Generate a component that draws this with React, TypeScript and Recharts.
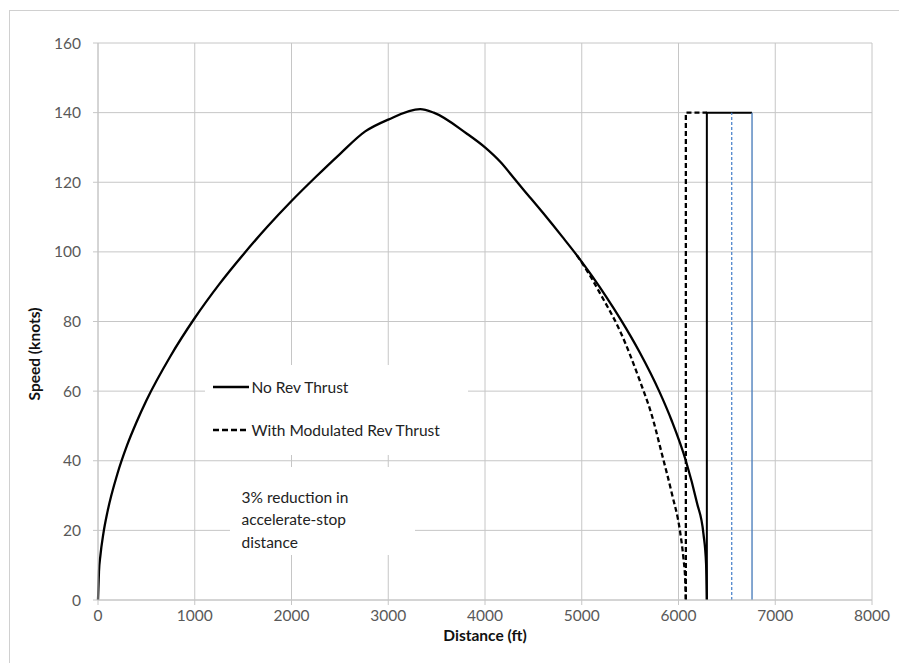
import { CartesianGrid, Label, Line, LineChart, XAxis, YAxis } from 'recharts';

const FONT = 'Lato, "Open Sans", sans-serif';

const distTicks = [0, 1000, 2000, 3000, 4000, 5000, 6000, 7000, 8000];
const speedTicks = [0, 20, 40, 60, 80, 100, 120, 140, 160];

// no reverse thrust: accelerate, reject, brake to stop
const noRevDist = [0, 10, 25, 55, 100, 200, 300, 400, 500, 750, 1000, 1250, 1500, 1750, 2000, 2250, 2500, 2762, 3000, 3330, 3470, 3810, 4000, 4160, 4313, 4400, 4605, 4800, 4950, 5100, 5260, 5400, 5600, 5800, 5930, 6076, 6190, 6258, 6285, 6293];
const noRevSpeed = [0, 8.1, 12.8, 19, 25.6, 36.2, 44.4, 51.2, 57.3, 70.1, 81, 90.6, 99.2, 107.2, 114.6, 121.5, 128.1, 134.6, 138, 141, 140, 134, 130, 125.8, 120.7, 117.8, 111, 104.3, 99, 93.3, 86.8, 80.7, 71.1, 60, 51.5, 40, 28, 19, 10.5, 0];

// with modulated reverse thrust (branch off after ~4950 ft)
const modRevDist = [4950, 5100, 5191, 5400, 5600, 5725, 5828, 5932, 6017, 6051, 6070, 6076];
const modRevSpeed = [99, 92.5, 88, 77, 63, 53, 42, 30.5, 19.5, 12, 5.5, 0];

// distance markers
const modMarkDist = [6076, 6076, 6293];
const modMarkSpeed = [0, 140, 140];
const noRevMarkDist = [6293, 6293, 6760];
const noRevMarkSpeed = [0, 140, 140];
const blueDashDist = [6550, 6550];
const blueDashSpeed = [0, 140];
const blueSolidDist = [6760, 6760];
const blueSolidSpeed = [0, 140];

const pts = (xs: number[], ys: number[]) => xs.map((d, i) => ({ d, v: ys[i] }));

const tickStyle = { fill: '#595959', fontSize: 15.5, fontFamily: FONT };
const titleStyle = { fill: '#111', fontSize: 15.5, fontWeight: 700, fontFamily: FONT };

export default function App() {
  return (
    <div
      style={{
        position: 'relative',
        left: 1,
        top: 2,
        width: 897,
        height: 654,
        borderTop: '1px solid #d0d0d0',
        borderLeft: '1px solid #d0d0d0',
        fontFamily: FONT,
      }}
    >
      <LineChart width={897} height={654} margin={{ top: 32, right: 35, bottom: 21, left: 10 }}>
        <CartesianGrid stroke="#c6c6c6" />
        <XAxis
          type="number"
          dataKey="d"
          domain={[0, 8000]}
          ticks={distTicks}
          interval={0}
          height={44}
          tickSize={5}
          tickMargin={5}
          stroke="#c6c6c6"
          tick={tickStyle}
        >
          <Label value="Distance (ft)" position="insideBottom" offset={3} style={titleStyle} />
        </XAxis>
        <YAxis
          type="number"
          dataKey="v"
          domain={[0, 160]}
          ticks={speedTicks}
          interval={0}
          width={78}
          tickSize={5}
          tickMargin={12}
          stroke="#c6c6c6"
          tick={tickStyle}
        >
          <Label value="Speed (knots)" angle={-90} position={{ x: 20, y: 311 }} style={{ ...titleStyle, textAnchor: 'middle' }} />
        </YAxis>
        <Line data={pts(noRevDist, noRevSpeed)} dataKey="v" type="monotone" stroke="#000" strokeWidth={2.3} dot={false} activeDot={false} isAnimationActive={false} />
        <Line data={pts(modRevDist, modRevSpeed)} dataKey="v" type="monotone" stroke="#000" strokeWidth={2.3} strokeDasharray="5 3" dot={false} activeDot={false} isAnimationActive={false} />
        <Line data={pts(modMarkDist, modMarkSpeed)} dataKey="v" type="linear" stroke="#000" strokeWidth={2.3} strokeDasharray="5 3" dot={false} activeDot={false} isAnimationActive={false} />
        <Line data={pts(noRevMarkDist, noRevMarkSpeed)} dataKey="v" type="linear" stroke="#000" strokeWidth={2} dot={false} activeDot={false} isAnimationActive={false} />
        <Line data={pts(blueDashDist, blueDashSpeed)} dataKey="v" type="linear" stroke="#4f86cc" strokeWidth={1.3} strokeDasharray="3 2" dot={false} activeDot={false} isAnimationActive={false} />
        <Line data={pts(blueSolidDist, blueSolidSpeed)} dataKey="v" type="linear" stroke="#4f81bd" strokeWidth={1.4} dot={false} activeDot={false} isAnimationActive={false} />
      </LineChart>

      {/* legend box (white, hides grid underneath) */}
      <div style={{ position: 'absolute', left: 195, top: 354, width: 263, height: 90, background: '#fff', fontSize: 15.5, color: '#222' }}>
        <svg width={36} height={6} style={{ position: 'absolute', left: 8, top: 19 }}>
          <line x1={0} y1={3} x2={36} y2={3} stroke="#000" strokeWidth={2.3} />
        </svg>
        <span style={{ position: 'absolute', left: 46.5, top: 22, transform: 'translateY(-50%)', whiteSpace: 'nowrap' }}>No Rev Thrust</span>
        <svg width={36} height={6} style={{ position: 'absolute', left: 8, top: 62 }}>
          <line x1={0} y1={3} x2={36} y2={3} stroke="#000" strokeWidth={2.3} strokeDasharray="6 3" />
        </svg>
        <span style={{ position: 'absolute', left: 46.5, top: 65, transform: 'translateY(-50%)', whiteSpace: 'nowrap' }}>With Modulated Rev Thrust</span>
      </div>

      {/* annotation */}
      <div style={{ position: 'absolute', left: 220, top: 456, width: 185, height: 88, background: '#fff', fontSize: 15.5, color: '#222', lineHeight: '22.5px' }}>
        <div style={{ position: 'absolute', left: 11.5, top: 18.5, whiteSpace: 'nowrap' }}>
          3% reduction in
          <br />
          accelerate-stop
          <br />
          distance
        </div>
      </div>
    </div>
  );
}
